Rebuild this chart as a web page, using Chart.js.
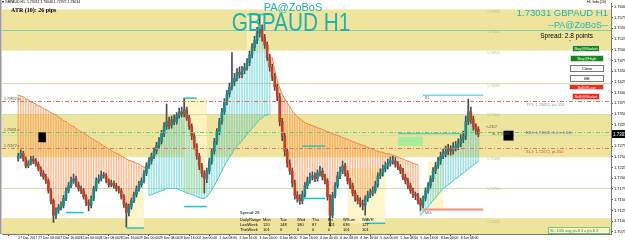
<!DOCTYPE html>
<html>
<head>
<meta charset="utf-8">
<title>GBPAUD H1</title>
<script src="https://cdn.jsdelivr.net/npm/chart.js@4.4.1/dist/chart.umd.min.js"></script>
<style>
  html, body { margin: 0; padding: 0; background: #fff; }
  canvas { display: block; }
</style>
</head>
<body>
<canvas id="chart" width="625" height="242"></canvas>
<script>
// H1 candles, 27 Dec 2017 -> 8 Jan 2018
const opens = [1.7246,1.7252,1.7258,1.7245,1.7229,1.7235,1.7245,1.7240,1.7233,1.7222,
1.7212,1.7203,1.7194,1.7171,1.7148,1.7114,1.7125,1.7132,1.7137,1.7153,
1.7171,1.7183,1.7194,1.7199,1.7185,1.7176,1.7171,1.7157,1.7143,1.7137,
1.7153,1.7176,1.7194,1.7199,1.7208,1.7206,1.7194,1.7185,1.7189,1.7183,
1.7176,1.7171,1.7157,1.7139,1.7120,1.7134,1.7148,1.7162,1.7176,1.7185,
1.7194,1.7212,1.7229,1.7240,1.7252,1.7263,1.7277,1.7286,1.7304,1.7321,
1.7332,1.7323,1.7337,1.7332,1.7346,1.7355,1.7350,1.7360,1.7341,1.7321,
1.7298,1.7275,1.7252,1.7229,1.7212,1.7199,1.7217,1.7240,1.7263,1.7286,
1.7309,1.7332,1.7355,1.7378,1.7396,1.7413,1.7424,1.7433,1.7447,1.7442,
1.7452,1.7459,1.7470,1.7488,1.7505,1.7521,1.7539,1.7548,1.7528,1.7511,
1.7482,1.7459,1.7436,1.7413,1.7390,1.7332,1.7298,1.7263,1.7235,1.7217,
1.7189,1.7160,1.7153,1.7148,1.7162,1.7183,1.7194,1.7203,1.7206,1.7199,
1.7212,1.7217,1.7203,1.7194,1.7157,1.7114,1.7160,1.7183,1.7206,1.7217,
1.7229,1.7212,1.7194,1.7183,1.7166,1.7153,1.7148,1.7141,1.7137,1.7153,
1.7162,1.7166,1.7171,1.7185,1.7206,1.7212,1.7222,1.7229,1.7235,1.7240,
1.7241,1.7233,1.7226,1.7217,1.7203,1.7194,1.7183,1.7171,1.7162,1.7160,
1.7148,1.7137,1.7153,1.7171,1.7183,1.7199,1.7217,1.7229,1.7240,1.7252,
1.7258,1.7263,1.7268,1.7263,1.7272,1.7275,1.7281,1.7291,1.7298,1.7332,
1.7355,1.7337,1.7321,1.7314];

const highs = [1.7258,1.7266,1.7263,1.7250,1.7241,1.7251,1.7252,1.7246,1.7238,1.7227,
1.7218,1.7209,1.7199,1.7176,1.7152,1.7131,1.7139,1.7145,1.7160,1.7178,
1.7190,1.7203,1.7210,1.7205,1.7191,1.7182,1.7176,1.7162,1.7150,1.7159,
1.7181,1.7201,1.7208,1.7217,1.7214,1.7211,1.7199,1.7196,1.7194,1.7188,
1.7181,1.7176,1.7162,1.7143,1.7140,1.7154,1.7168,1.7182,1.7193,1.7201,
1.7218,1.7236,1.7248,1.7259,1.7271,1.7284,1.7295,1.7312,1.7330,1.7373,
1.7343,1.7345,1.7348,1.7353,1.7364,1.7366,1.7387,1.7366,1.7347,1.7327,
1.7304,1.7281,1.7258,1.7235,1.7218,1.7224,1.7247,1.7270,1.7293,1.7316,
1.7340,1.7363,1.7386,1.7405,1.7422,1.7493,1.7445,1.7456,1.7460,1.7461,
1.7468,1.7479,1.7497,1.7514,1.7531,1.7552,1.7580,1.7558,1.7536,1.7518,
1.7490,1.7466,1.7444,1.7420,1.7398,1.7340,1.7305,1.7270,1.7243,1.7224,
1.7196,1.7169,1.7162,1.7170,1.7190,1.7203,1.7212,1.7215,1.7213,1.7220,
1.7228,1.7224,1.7209,1.7199,1.7162,1.7167,1.7190,1.7214,1.7226,1.7240,
1.7235,1.7218,1.7200,1.7189,1.7172,1.7160,1.7155,1.7149,1.7159,1.7170,
1.7175,1.7180,1.7193,1.7213,1.7222,1.7231,1.7238,1.7245,1.7250,1.7251,
1.7248,1.7239,1.7232,1.7223,1.7209,1.7200,1.7189,1.7177,1.7168,1.7165,
1.7154,1.7159,1.7178,1.7190,1.7206,1.7225,1.7237,1.7249,1.7261,1.7268,
1.7275,1.7279,1.7276,1.7283,1.7286,1.7292,1.7302,1.7310,1.7345,1.7385,
1.7366,1.7345,1.7327,1.7320];

const lows = [1.7240,1.7247,1.7240,1.7224,1.7225,1.7231,1.7234,1.7228,1.7217,1.7205,
1.7198,1.7188,1.7165,1.7140,1.7097,1.7106,1.7118,1.7126,1.7131,1.7148,
1.7166,1.7178,1.7188,1.7180,1.7170,1.7164,1.7151,1.7136,1.7124,1.7131,
1.7148,1.7170,1.7188,1.7193,1.7200,1.7189,1.7179,1.7180,1.7177,1.7170,
1.7165,1.7151,1.7132,1.7086,1.7112,1.7128,1.7143,1.7156,1.7170,1.7179,
1.7189,1.7206,1.7223,1.7233,1.7246,1.7257,1.7270,1.7280,1.7297,1.7314,
1.7315,1.7317,1.7325,1.7326,1.7340,1.7343,1.7344,1.7335,1.7314,1.7290,
1.7268,1.7244,1.7220,1.7203,1.7166,1.7190,1.7210,1.7233,1.7256,1.7279,
1.7302,1.7326,1.7349,1.7371,1.7389,1.7406,1.7416,1.7427,1.7434,1.7435,
1.7444,1.7452,1.7463,1.7481,1.7498,1.7514,1.7530,1.7520,1.7503,1.7475,
1.7450,1.7428,1.7405,1.7381,1.7322,1.7288,1.7252,1.7226,1.7209,1.7180,
1.7151,1.7144,1.7139,1.7141,1.7156,1.7176,1.7188,1.7196,1.7192,1.7193,
1.7205,1.7196,1.7187,1.7149,1.7088,1.7108,1.7154,1.7177,1.7199,1.7211,
1.7205,1.7187,1.7176,1.7159,1.7146,1.7140,1.7133,1.7126,1.7114,1.7146,
1.7155,1.7159,1.7165,1.7179,1.7199,1.7205,1.7215,1.7222,1.7228,1.7233,
1.7226,1.7220,1.7211,1.7197,1.7187,1.7176,1.7165,1.7155,1.7150,1.7140,
1.7125,1.7131,1.7147,1.7165,1.7177,1.7192,1.7211,1.7223,1.7233,1.7246,
1.7250,1.7255,1.7254,1.7256,1.7264,1.7267,1.7274,1.7283,1.7290,1.7325,
1.7328,1.7312,1.7303,1.7297];

const closes = [1.7252,1.7258,1.7245,1.7229,1.7235,1.7245,1.7240,1.7233,1.7222,1.7212,
1.7203,1.7194,1.7171,1.7148,1.7114,1.7125,1.7132,1.7137,1.7153,1.7171,
1.7183,1.7194,1.7199,1.7185,1.7176,1.7171,1.7157,1.7143,1.7137,1.7153,
1.7176,1.7194,1.7199,1.7208,1.7206,1.7194,1.7185,1.7189,1.7183,1.7176,
1.7171,1.7157,1.7139,1.7120,1.7134,1.7148,1.7162,1.7176,1.7185,1.7194,
1.7212,1.7229,1.7240,1.7252,1.7263,1.7277,1.7286,1.7304,1.7321,1.7332,
1.7323,1.7337,1.7332,1.7346,1.7355,1.7350,1.7360,1.7341,1.7321,1.7298,
1.7275,1.7252,1.7229,1.7212,1.7199,1.7217,1.7240,1.7263,1.7286,1.7309,
1.7332,1.7355,1.7378,1.7396,1.7413,1.7424,1.7433,1.7447,1.7442,1.7452,
1.7459,1.7470,1.7488,1.7505,1.7521,1.7539,1.7548,1.7528,1.7511,1.7482,
1.7459,1.7436,1.7413,1.7390,1.7332,1.7298,1.7263,1.7235,1.7217,1.7189,
1.7160,1.7153,1.7148,1.7162,1.7183,1.7194,1.7203,1.7206,1.7199,1.7212,
1.7217,1.7203,1.7194,1.7157,1.7114,1.7160,1.7183,1.7206,1.7217,1.7229,
1.7212,1.7194,1.7183,1.7166,1.7153,1.7148,1.7141,1.7137,1.7153,1.7162,
1.7166,1.7171,1.7185,1.7206,1.7212,1.7222,1.7229,1.7235,1.7240,1.7241,
1.7233,1.7226,1.7217,1.7203,1.7194,1.7183,1.7171,1.7162,1.7160,1.7148,
1.7137,1.7153,1.7171,1.7183,1.7199,1.7217,1.7229,1.7240,1.7252,1.7258,
1.7263,1.7268,1.7263,1.7272,1.7275,1.7281,1.7291,1.7298,1.7332,1.7355,
1.7337,1.7321,1.7314,1.7303];

// trailing stop line, in four runs: down (0-51), up (52-100), down (101-159), up (160-183)
const trendDown1 = [1.7394,1.7392,1.7390,1.7385,1.7383,1.7378,1.7376,1.7373,1.7369,1.7367,
1.7362,1.7360,1.7357,1.7353,1.7350,1.7348,1.7343,1.7339,1.7334,1.7332,
1.7327,1.7323,1.7321,1.7316,1.7311,1.7309,1.7304,1.7302,1.7298,1.7293,
1.7291,1.7286,1.7284,1.7279,1.7275,1.7272,1.7268,1.7265,1.7261,1.7258,
1.7256,1.7252,1.7249,1.7245,1.7242,1.7240,1.7238,1.7235,1.7233,1.7229,
1.7226,1.7224];
const trendUp1 = [1.7160,1.7162,1.7164,1.7166,1.7169,1.7171,1.7173,1.7176,1.7176,1.7176,
1.7176,1.7176,1.7173,1.7171,1.7169,1.7166,1.7164,1.7162,1.7160,1.7157,
1.7155,1.7153,1.7153,1.7157,1.7164,1.7173,1.7183,1.7194,1.7206,1.7217,
1.7229,1.7240,1.7249,1.7258,1.7268,1.7275,1.7281,1.7288,1.7295,1.7302,
1.7309,1.7316,1.7323,1.7330,1.7337,1.7341,1.7346,1.7348,1.7350];
const trendDown2 = [1.7482,1.7452,1.7429,1.7410,1.7396,1.7385,1.7376,1.7367,1.7357,1.7350,
1.7343,1.7339,1.7334,1.7330,1.7327,1.7325,1.7323,1.7321,1.7318,1.7316,
1.7314,1.7311,1.7309,1.7307,1.7304,1.7302,1.7300,1.7298,1.7295,1.7293,
1.7291,1.7288,1.7286,1.7284,1.7281,1.7279,1.7277,1.7275,1.7272,1.7270,
1.7268,1.7265,1.7263,1.7261,1.7261,1.7258,1.7258,1.7256,1.7254,1.7252,
1.7249,1.7247,1.7245,1.7242,1.7240,1.7238,1.7235,1.7233,1.7231];
const trendUp2 = [1.7114,1.7120,1.7127,1.7134,1.7141,1.7148,1.7155,1.7162,1.7169,1.7176,
1.7180,1.7185,1.7189,1.7194,1.7199,1.7203,1.7208,1.7212,1.7217,1.7222,
1.7226,1.7231,1.7235,1.7240];

// price axis and time axis
const priceTicks = [1.7600,1.7575,1.7550,1.7525,1.7500,1.7475,1.7450,1.7425,1.7400,1.7375,1.7350,
1.7325,1.7300,1.7275,1.7250,1.7225,1.7200,1.7175,1.7150,1.7125,1.7100,1.7075];
const timeTickIdx = [0,8,16,24,32,40,48,56,64,72,80,88,96,104,112,120,128,136,144,152,160,168,176];
const timeLabels = ["27 Dec 2017","27 Dec 08:00","27 Dec 16:00","28 Dec 00:00","28 Dec 08:00","28 Dec 16:00",
"29 Dec 00:00","29 Dec 08:00","29 Dec 16:00","2 Jan 00:00","2 Jan 08:00","2 Jan 16:00","3 Jan 00:00",
"3 Jan 08:00","3 Jan 16:00","4 Jan 00:00","4 Jan 08:00","4 Jan 16:00","5 Jan 00:00","5 Jan 08:00",
"5 Jan 16:00","8 Jan 00:00","8 Jan 08:00"];

// chart objects
const bandLevels = [[1.7594, 1.7498], [1.7350, 1.7249], [1.7107, 1.7060]];
const roundLevels = [1.7592, 1.7544, 1.7495, 1.7419, 1.7350, 1.7249, 1.7178, 1.7102];
const lightLines = [1.7546, 1.7422, 1.7350, 1.7302, 1.7178];
const tpLevel = 1.7380, beLevel = 1.7309, slLevel = 1.7270;
const currentPrice = 1.73031;
const dayBoxes = [[43, 50, 1.7171, 1.7084], [66, 75, 1.7387, 1.7166], [91, 98, 1.7580, 1.7493], [131, 146, 1.7224, 1.7095], [163, 169, 1.7240, 1.7125]];
const dayMarks = [[66, 71, 1.7387], [91, 98, 1.7582], [43, 50, 1.7084], [138, 146, 1.7095], [19, 26, 1.7120], [66, 75, 1.7134], [113, 122, 1.7275], [113, 122, 1.7153]];
const pivotR1 = [161, 185, 1.7394];
const pivotS1 = [161, 185, 1.7127];
const zoneBox = [151, 161, 1.7297, 1.7275];
const zoneLine = [151, 176, 1.7304];
const tagBoxes = [[8, 11, 1.7307, 1.7284], [193, 197, 1.7311, 1.7288]];

const dailyDays = ["Mon", "Tue", "Wed", "Thu", "Fri", "WSum", "WAVR"];
const lastWeek = [120, 148, 180, 87, 101, 636, 127];
const thisWeek = [101, 0, 0, 0, 0, 101, 101];

const BULL = '#118C8C';
const BEAR = '#D2381C';
const WICK = '#4A4A4A';
const TEAL = '#1FB2B2';

const n = opens.length;
const pad = k => Array(k).fill(null);
const trendDown = [...trendDown1, ...pad(trendUp1.length), ...trendDown2, ...pad(trendUp2.length)];
const trendUp = [...pad(trendDown1.length), ...trendUp1, ...pad(trendDown2.length), ...trendUp2];

const downHist = [], upHist = [];
for (let i = 0; i < n; i++) {
  if (trendDown[i] !== null) downHist.push({ x: i, y: [trendDown[i], highs[i]] });
  if (trendUp[i] !== null) upHist.push({ x: i, y: [trendUp[i], lows[i]] });
}
const wickData = opens.map((o, i) => ({ x: i, y: [lows[i], highs[i]] }));
const bodyData = opens.map((o, i) => ({ x: i, y: [o, closes[i]] }));
const bodyColors = opens.map((o, i) => closes[i] >= o ? BULL : BEAR);

function txt(ctx, s, x, y, font, color, align) {
  ctx.font = font;
  ctx.fillStyle = color;
  ctx.textAlign = align || 'left';
  ctx.textBaseline = 'middle';
  ctx.fillText(s, x, y);
}

function button(ctx, label, x1, y1, x2, y2, fill, color) {
  ctx.fillStyle = fill;
  ctx.fillRect(x1, y1, x2 - x1, y2 - y1);
  ctx.strokeStyle = fill === '#ffffff' ? '#777' : '#d8d8d8';
  ctx.lineWidth = 1;
  ctx.strokeRect(x1 + 0.5, y1 + 0.5, x2 - x1 - 1, y2 - y1 - 1);
  txt(ctx, label, (x1 + x2) / 2, (y1 + y2) / 2 + 0.5, '4px "Liberation Sans"', color, 'center');
}

const overlay = {
  id: 'overlay',
  beforeDatasetsDraw(chart) {
    const { ctx, chartArea: a, scales: { x, y } } = chart;
    const X = v => x.getPixelForValue(v), Y = v => y.getPixelForValue(v);
    ctx.save();
    ctx.beginPath();
    ctx.rect(a.left, a.top, a.right - a.left, a.bottom - a.top);
    ctx.clip();

    ctx.fillStyle = '#EFE49E';
    bandLevels.forEach(([hi, lo]) => ctx.fillRect(a.left, Y(hi), a.right - a.left, Y(lo) - Y(hi)));

    ctx.fillStyle = 'rgba(255,245,195,0.85)';
    dayBoxes.forEach(([i0, i1, hi, lo]) => ctx.fillRect(X(i0), Y(hi), X(i1) - X(i0), Y(lo) - Y(hi)));

    ctx.fillStyle = 'rgba(150,236,150,0.8)';
    ctx.fillRect(X(zoneBox[0]), Y(zoneBox[2]), X(zoneBox[1]) - X(zoneBox[0]), Y(zoneBox[3]) - Y(zoneBox[2]));

    ctx.lineWidth = 1;
    lightLines.forEach((v, k) => {
      ctx.strokeStyle = k === 0 ? '#86CFA8' : '#CFE3A0';
      const py = Math.round(Y(v)) + 0.5;
      ctx.beginPath(); ctx.moveTo(a.left, py); ctx.lineTo(a.right, py); ctx.stroke();
    });

    roundLevels.forEach(v => {
      txt(ctx, v.toFixed(5), X(189), Y(v) + 1.5, '3.5px "Liberation Sans"', '#A8C888', 'center');
    });
    ctx.restore();
  },
  afterDatasetsDraw(chart) {
    const { ctx, chartArea: a, scales: { x, y } } = chart;
    const X = v => x.getPixelForValue(v), Y = v => y.getPixelForValue(v);
    ctx.save();

    // trade lines
    ctx.lineWidth = 1;
    ctx.setLineDash([4, 2, 1, 2]);
    [[tpLevel, '#E8705A'], [beLevel, '#6CC66C'], [slLevel, '#E8705A']].forEach(([v, c]) => {
      const py = Math.round(Y(v)) + 0.5;
      ctx.strokeStyle = c;
      ctx.beginPath(); ctx.moveTo(a.left, py); ctx.lineTo(a.right, py); ctx.stroke();
    });
    ctx.setLineDash([]);

    // day high / low marks
    ctx.strokeStyle = '#22C4C4';
    ctx.lineWidth = 1.5;
    dayMarks.forEach(([i0, i1, v]) => {
      ctx.beginPath(); ctx.moveTo(X(i0), Y(v)); ctx.lineTo(X(i1), Y(v)); ctx.stroke();
    });
    ctx.strokeStyle = '#3BBFC4';
    ctx.lineWidth = 1;
    ctx.beginPath(); ctx.moveTo(X(pivotR1[0]), Y(pivotR1[2])); ctx.lineTo(X(pivotR1[1]), Y(pivotR1[2])); ctx.stroke();
    ctx.beginPath(); ctx.moveTo(X(zoneLine[0]), Y(zoneLine[2])); ctx.lineTo(X(zoneLine[1]), Y(zoneLine[2])); ctx.stroke();
    ctx.strokeStyle = '#F29072';
    ctx.lineWidth = 2;
    ctx.beginPath(); ctx.moveTo(X(pivotS1[0]), Y(pivotS1[2])); ctx.lineTo(X(pivotS1[1]), Y(pivotS1[2])); ctx.stroke();
    txt(ctx, 'R1', X(pivotR1[0]) + 2, Y(pivotR1[2]) + 3, '3.5px "Liberation Sans"', '#7050A0');
    txt(ctx, 'MDL', X(pivotS1[0]) + 2, Y(pivotS1[2]) + 3, '3.5px "Liberation Sans"', '#7050A0');

    ctx.fillStyle = '#000';
    tagBoxes.forEach(([i0, i1, hi, lo]) => ctx.fillRect(X(i0), Y(hi), X(i1) - X(i0), Y(lo) - Y(hi)));

    // trade labels
    const f4 = '4px "Liberation Sans"';
    txt(ctx, 'TP1: 1.73822, pt+550', 526, Y(tpLevel) + 4, f4, '#8A9A8A');
    txt(ctx, 'BE1: 1.73032, 1.0 tr 0.0/0', 526, Y(beLevel) + 1.5, f4, '#8060A0');
    txt(ctx, 'SL1: 1.72672, pt-350', 526, Y(slLevel) + 3.5, f4, '#C05040');
    txt(ctx, '1.73822 tp', 4, Y(tpLevel) - 2, '3.5px "Liberation Sans"', '#555');
    txt(ctx, '1.73031 o', 4, Y(beLevel) - 2, '3.5px "Liberation Sans"', '#555');
    txt(ctx, '1.72672 s', 4, Y(slLevel) - 2, '3.5px "Liberation Sans"', '#555');
    txt(ctx, '<-2317', 486, 127, '3.5px "Liberation Sans"', '#555');
    txt(ctx, 'SL 1.73031', 492, 134, '3.5px "Liberation Sans"', '#555');

    // header and titles
    txt(ctx, '\u25BE GBPAUD,H1  1.73011 1.73046 1.72972 1.73034', 2, 2.5, '3.5px "Liberation Sans"', '#000');
    txt(ctx, 'ATR (10): 26 pips', 11, 10.5, 'bold 6px "Liberation Serif"', '#000');
    txt(ctx, 'PA@ZoBoS', 293, 7.5, '11px "Liberation Sans"', TEAL, 'center');
    ctx.save();
    ctx.translate(291, 23.5);
    ctx.scale(0.8, 1);
    txt(ctx, 'GBPAUD H1', 0, 0, '26px "Liberation Sans"', TEAL, 'center');
    ctx.restore();
    txt(ctx, 'HL Indic(10)', 606, 2.5, '3.5px "Liberation Sans"', '#000', 'right');
    txt(ctx, '1.73031 GBPAUD H1', 608, 13, '9.5px "Liberation Sans"', TEAL, 'right');
    txt(ctx, '--PA@ZoBoS--', 608, 25.5, '9px "Liberation Sans"', TEAL, 'right');
    txt(ctx, 'Spread: 2.8 points', 593, 36, '6.5px "Liberation Sans"', '#000', 'right');
    txt(ctx, '*', 570, 42, '4px "Liberation Sans"', '#000', 'center');

    button(ctx, 'Buy@Market', 572, 45, 600, 52, '#138A13', '#ffffff');
    button(ctx, 'Buy@High', 570, 55, 604, 62, '#138A13', '#ffffff');
    button(ctx, 'Close', 570, 65, 604, 72, '#ffffff', '#000000');
    button(ctx, 'BE', 570, 75, 604, 82, '#ffffff', '#000000');
    button(ctx, 'Sell@Low', 569, 84, 604, 90, '#FF2414', '#ffffff');
    button(ctx, 'Sell@Market', 572, 93, 600, 100, '#FF2414', '#ffffff');

    // daily range table
    const cols = [263, 280, 297, 312, 328, 343, 362];
    const tf = '4px "Liberation Sans"';
    txt(ctx, 'Spread: 28', 240, 213, tf, '#000');
    txt(ctx, 'DailyRange', 240, 220, tf, '#000');
    txt(ctx, 'LastWeek', 240, 225, tf, '#000');
    txt(ctx, 'ThisWeek', 240, 230, tf, '#000');
    dailyDays.forEach((d, k) => {
      txt(ctx, d, cols[k], 220, tf, '#000');
      txt(ctx, String(lastWeek[k]), cols[k], 225, tf, '#000');
      txt(ctx, String(thisWeek[k]), cols[k], 230, tf, '#000');
    });

    // stats box
    ctx.fillStyle = 'rgba(255,255,230,0.6)';
    ctx.fillRect(548, 227, 62, 7);
    ctx.strokeStyle = '#7CC47C';
    ctx.lineWidth = 1;
    ctx.strokeRect(548.5, 227.5, 61, 6);
    txt(ctx, 'SL: 13/0 avg pt+8.3 = pt+8.3', 550, 231, '3.8px "Liberation Sans"', '#3C8C3C');

    // current price tag on the axis
    const cy = Math.round(Y(currentPrice));
    ctx.fillStyle = '#000';
    ctx.fillRect(a.right + 1, cy - 4, 14, 8);
    txt(ctx, currentPrice.toFixed(5), a.right + 2, cy + 0.5, '4.5px "Liberation Sans"', '#fff');

    // window edge
    ctx.fillStyle = '#9a9a9a';
    ctx.fillRect(0, 0, 1.5, a.bottom);
    ctx.restore();
  }
};

new Chart(document.getElementById('chart'), {
  type: 'bar',
  data: {
    datasets: [
      { type: 'bar', data: downHist, backgroundColor: 'rgba(255,140,70,0.55)', barThickness: 1, grouped: false, order: 6 },
      { type: 'bar', data: upHist, backgroundColor: 'rgba(70,200,205,0.5)', barThickness: 1, grouped: false, order: 6 },
      { type: 'line', data: trendDown.map((v, i) => ({ x: i, y: v })), borderColor: '#F2874E', borderWidth: 1, pointRadius: 0, spanGaps: false, order: 5 },
      { type: 'line', data: trendUp.map((v, i) => ({ x: i, y: v })), borderColor: '#52C6C6', borderWidth: 1, pointRadius: 0, spanGaps: false, order: 5 },
      { type: 'bar', data: wickData, backgroundColor: WICK, barThickness: 1, grouped: false, order: 2 },
      { type: 'bar', data: bodyData, backgroundColor: bodyColors, barThickness: 2, minBarLength: 1, grouped: false, order: 1 }
    ]
  },
  options: {
    responsive: false,
    animation: false,
    devicePixelRatio: 1,
    layout: { padding: { left: 2, right: 0, top: 0, bottom: 0 } },
    plugins: { legend: { display: false }, tooltip: { enabled: false } },
    scales: {
      x: {
        type: 'linear',
        min: -1.2,
        max: 230.5,
        grid: { display: true, drawOnChartArea: false, tickLength: 2, color: '#555' },
        border: { color: '#777' },
        ticks: {
          autoSkip: false,
          maxRotation: 0,
          align: 'start',
          padding: 0,
          font: { size: 3.4, family: '"Liberation Sans"' },
          color: '#000',
          callback: v => timeLabels[timeTickIdx.indexOf(v)] || ''
        },
        afterBuildTicks: axis => { axis.ticks = timeTickIdx.map(v => ({ value: v })); },
        afterFit: axis => { axis.height = 8; }
      },
      y: {
        type: 'linear',
        position: 'right',
        min: 1.7070,
        max: 1.7608,
        grid: { display: true, drawOnChartArea: false, tickLength: 2, color: '#555' },
        border: { color: '#777' },
        ticks: {
          padding: 1,
          font: { size: 4, family: '"Liberation Sans"' },
          color: '#000',
          callback: v => v.toFixed(5)
        },
        afterBuildTicks: axis => { axis.ticks = priceTicks.map(v => ({ value: v })); },
        afterFit: axis => { axis.width = 14; }
      }
    }
  },
  plugins: [overlay]
});
</script>
</body>
</html>
